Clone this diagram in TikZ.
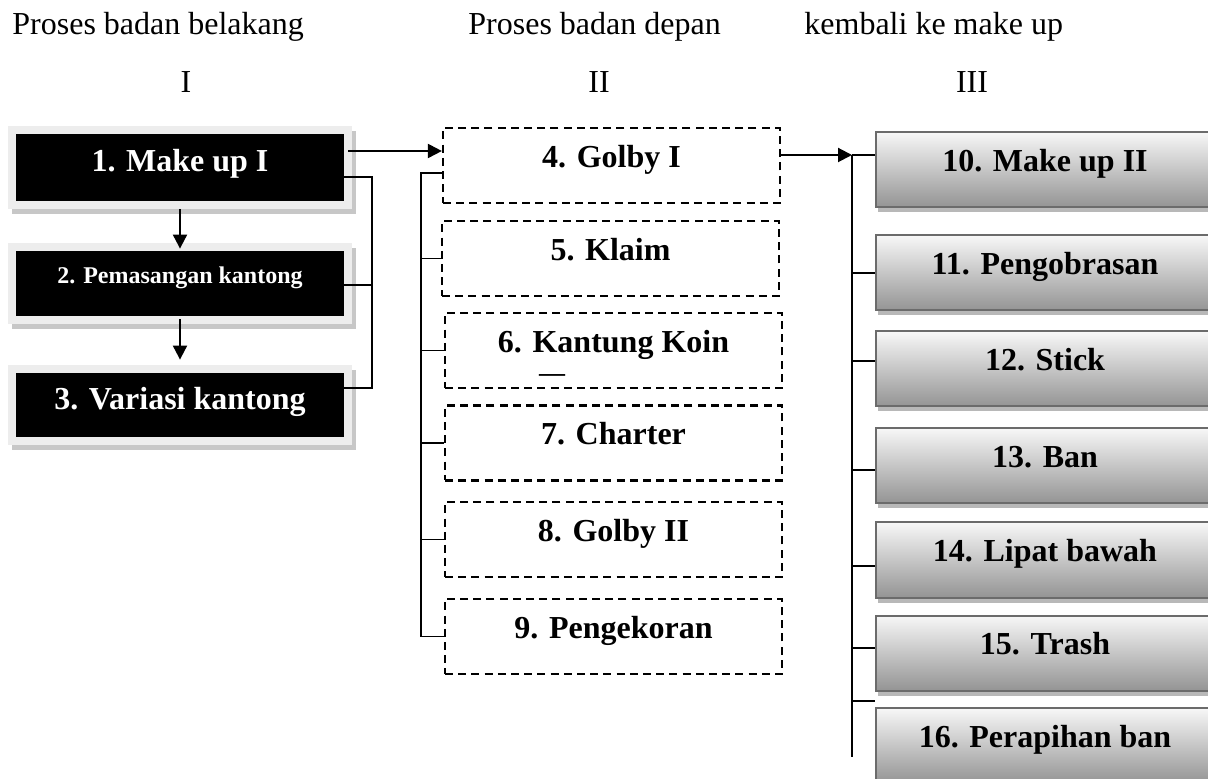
\documentclass[tikz,border=0pt]{standalone}
\usepackage{fontspec}
\setmainfont{Liberation Serif}
\usetikzlibrary{arrows.meta}
\begin{document}
\begin{tikzpicture}[x=0.5pt,y=-0.5pt,
  hdr/.style={font=\fontsize{16}{16}\selectfont, inner sep=0pt},
  blackbox/.style={fill=black, text=white, inner sep=0pt, minimum width=164pt,
    font=\fontsize{16}{16}\selectfont\bfseries, text height=0.7em, text depth=0.28em,
    preaction={draw=black!22, fill=black!22, line width=8pt, transform canvas={shift={(2pt,-2.5pt)}}},
    preaction={draw=black!7, line width=8pt}},
  smalltext/.style={font=\fontsize{12}{12}\selectfont\bfseries, text height=0.6em, text depth=0.6em},
  dbox/.style={draw=black, line width=1.1pt, dash pattern=on 4pt off 2.6pt, inner sep=0pt,
    minimum width=168.5pt, minimum height=37.5pt,
    font=\fontsize{16}{16}\selectfont\bfseries, text height=0.7em, text depth=0.53em},
  gbox/.style={draw=black!58, line width=1pt, top color=black!3, bottom color=black!42,
    inner sep=0pt, minimum width=169pt, minimum height=37.5pt,
    font=\fontsize{16}{16}\selectfont\bfseries, text height=0.7em, text depth=0.51em,
    preaction={fill=black!28, draw=black!28, line width=1pt, transform canvas={shift={(1.5pt,-2pt)}}}},
  arr/.style={line width=1pt, -{Triangle[length=7pt,width=7pt]}},
  conn/.style={line width=0.8pt}
]
\useasboundingbox[fill=white] (0,0) rectangle (1208,779);

% headers
\node[hdr, anchor=base west] (h1) at (12,35) {Proses badan belakang};
\node[hdr, anchor=base west] (h2) at (468,35) {Proses badan depan};
\node[hdr, anchor=base west] (h3) at (804,35) {kembali ke make up};
\node[hdr, anchor=base] (r1) at (186,93) {I};
\node[hdr, anchor=base] (r2) at (599,93) {II};
\node[hdr, anchor=base] (r3) at (972,93) {III};

% column I
\node[blackbox, minimum height=33.5pt] (b1) at (180,167.5) {1. Make up I};
\node[blackbox, smalltext, minimum height=32.5pt] (b2) at (180,283.5) {2. Pemasangan kantong};
\node[blackbox, minimum height=32pt] (b3) at (180,405) {3. Variasi kantong};

% column II
\node[dbox] (d4) at (611.5,165.5) {4. Golby I};
\node[dbox] (d5) at (610.5,258.5) {5. Klaim};
\node[dbox] (d6) at (613.5,350.5) {6. Kantung Koin};
\node[dbox] (d7) at (613.5,443) {7. Charter};
\node[dbox] (d8) at (613.5,539.5) {8. Golby II};
\node[dbox] (d9) at (613.5,636.5) {9. Pengekoran};
\node[inner sep=0pt, font=\fontsize{13}{13}\selectfont\bfseries] (dash6) at (552,378) {—};

% column III
\node[gbox] (g10) at (1045,169.5) {10. Make up II};
\node[gbox] (g11) at (1045,273) {11. Pengobrasan};
\node[gbox] (g12) at (1045,369) {12. Stick};
\node[gbox] (g13) at (1045,465.5) {13. Ban};
\node[gbox] (g14) at (1045,560) {14. Lipat bawah};
\node[gbox] (g15) at (1045,653) {15. Trash};
\node[gbox] (g16) at (1045,745.5) {16. Perapihan ban};

% column I arrows and bracket
\draw[arr, shorten <=4pt, shorten >=1pt] (b1.south) -- (b2.north);
\draw[arr, shorten <=1.5pt, shorten >=6.5pt] (b2.south) -- (b3.north);
\coordinate (br1) at (372,177);
\coordinate (br2) at (372,285);
\coordinate (br3) at (372,388);
\draw[conn] (br1 -| b1.east) -- (br1) -- (br3) -- (br3 -| b3.east);
\draw[conn] (br2 -| b2.east) -- (br2);

% arrow to column II
\coordinate (a14) at (348,151);
\draw[arr] (a14) -- (a14 -| d4.west);

% column II bracket
\coordinate (v2top) at (421,173);
\draw[conn] (v2top -| d4.west) -- (v2top) |- (d9.west);
\draw[conn] (d5.west) -- (d5.west -| v2top);
\draw[conn] (d6.west) -- (d6.west -| v2top);
\draw[conn] (d7.west) -- (d7.west -| v2top);
\draw[conn] (d8.west) -- (d8.west -| v2top);

% arrow to column III
\coordinate (v3top) at (852,155);
\coordinate (v3bot) at (852,757);
\draw[arr] (v3top -| d4.east) -- (v3top);
\draw[conn] (v3top) -- (v3top -| g10.west);
\draw[line width=1pt] (v3top) -- (v3bot);
\coordinate (s11) at (852,273);
\coordinate (s12) at (852,361);
\coordinate (s13) at (852,470);
\coordinate (s14) at (852,566);
\coordinate (s15) at (852,648);
\coordinate (s16) at (852,701);
\draw[conn] (s11) -- (s11 -| g11.west);
\draw[conn] (s12) -- (s12 -| g12.west);
\draw[conn] (s13) -- (s13 -| g13.west);
\draw[conn] (s14) -- (s14 -| g14.west);
\draw[conn] (s15) -- (s15 -| g15.west);
\draw[conn] (s16) -- (s16 -| g16.west);
\end{tikzpicture}
\end{document}
